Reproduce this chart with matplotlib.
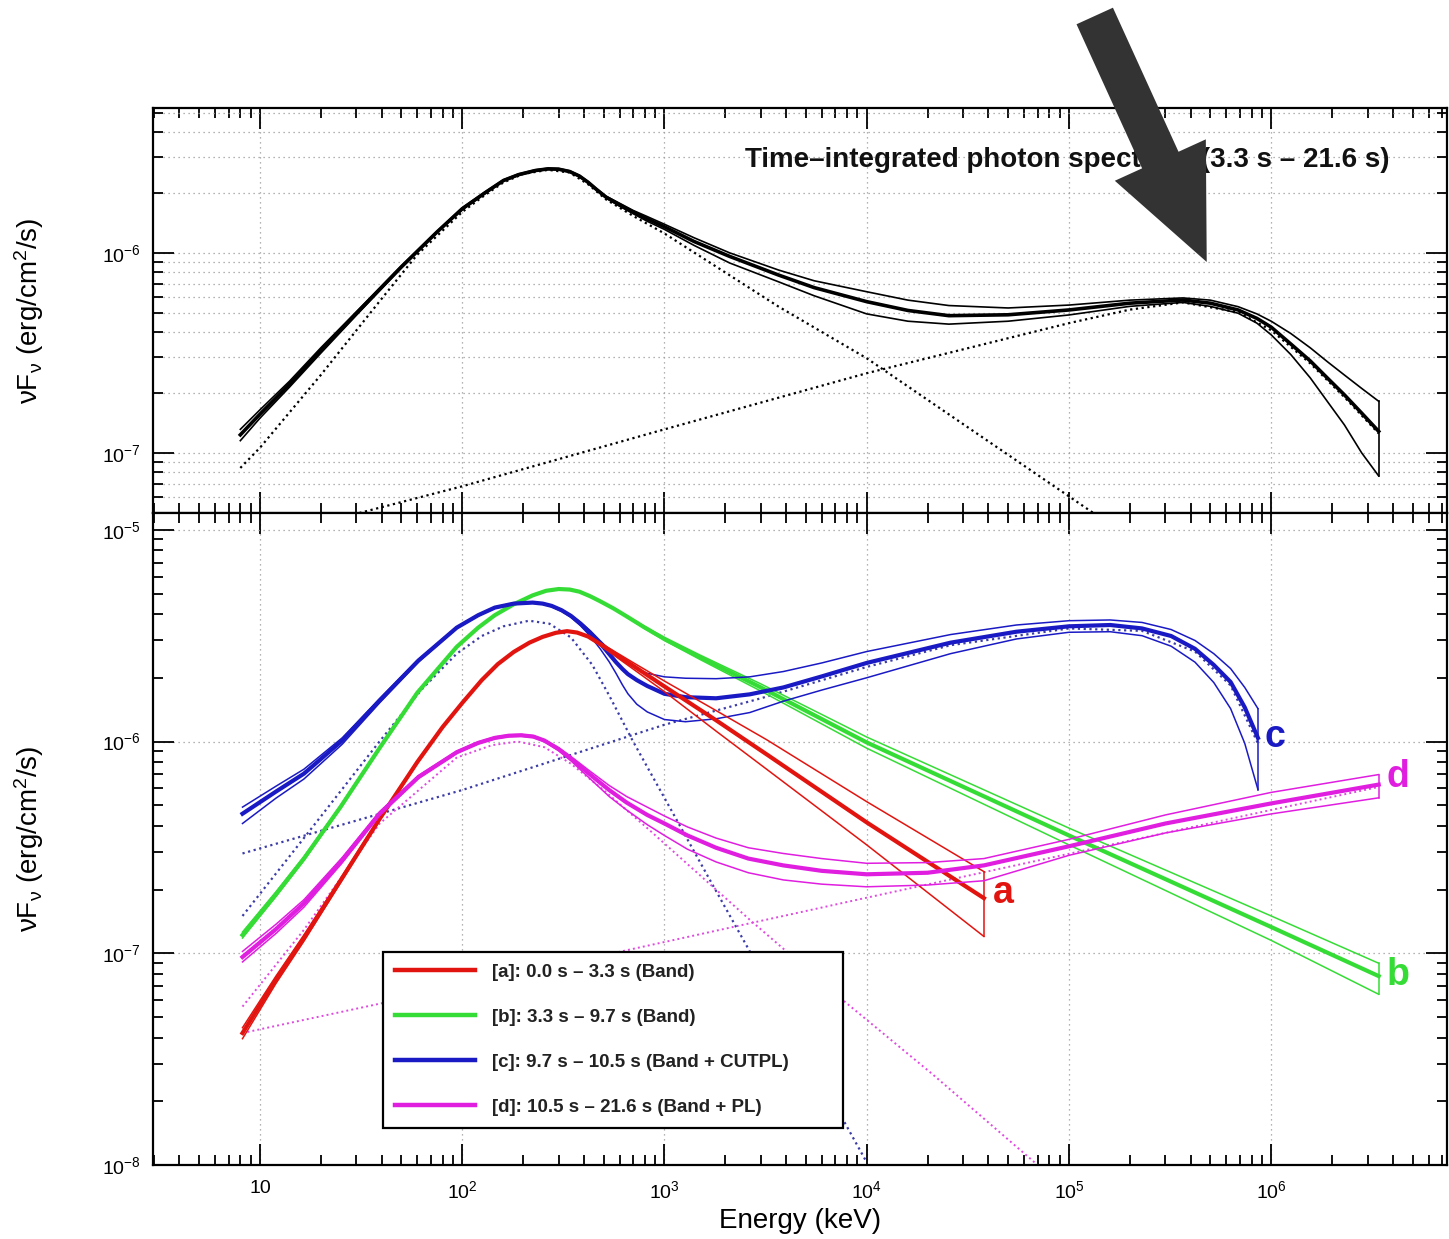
import numpy as np
import matplotlib
matplotlib.use('Agg')
import matplotlib.pyplot as plt
from matplotlib.ticker import LogLocator, FixedLocator, FuncFormatter, NullFormatter
from matplotlib.lines import Line2D
from matplotlib.patches import FancyArrow

plt.rcParams['font.family'] = ['Liberation Sans', 'DejaVu Sans']
plt.rcParams['mathtext.fontset'] = 'custom'
plt.rcParams['mathtext.rm'] = 'Liberation Sans'
plt.rcParams['mathtext.it'] = 'Liberation Sans:italic'
plt.rcParams['mathtext.bf'] = 'Liberation Sans:bold'

# ---------------- data (E in keV, nuFnu in erg/cm2/s) ----------------
# top panel: time-integrated spectrum (butterfly: mid / upper / lower)
E_top = [8.0, 10, 14, 20, 30, 50, 75, 100, 130, 160, 190, 230, 266, 300, 340, 380, 420, 460,
         514, 600, 700, 820, 1000, 1400, 2100, 3670, 5500, 1.0e4, 1.6e4, 2.55e4, 5.0e4,
         1.0e5, 2.0e5, 3.66e5, 5.0e5, 6.86e5, 8.5e5, 1.0e6, 1.25e6, 1.56e6, 1.9e6, 2.3e6,
         2.8e6, 3.4e6]
top_mid = [1.23e-7, 1.56e-7, 2.2e-7, 3.25e-7, 4.98e-7, 8.5e-7, 1.27e-6, 1.66e-6, 2.0e-6,
           2.3e-6, 2.46e-6, 2.58e-6, 2.63e-6, 2.62e-6, 2.55e-6, 2.42e-6, 2.25e-6, 2.08e-6,
           1.90e-6, 1.74e-6, 1.60e-6, 1.48e-6, 1.35e-6, 1.14e-6, 9.6e-7, 7.74e-7, 6.7e-7,
           5.70e-7, 5.15e-7, 4.85e-7, 4.9e-7, 5.18e-7, 5.6e-7, 5.81e-7, 5.6e-7, 5.18e-7,
           4.7e-7, 4.25e-7, 3.5e-7, 2.88e-7, 2.36e-7, 1.95e-7, 1.58e-7, 1.28e-7]
top_hi = [1.31e-7, 1.64e-7, 2.28e-7, 3.35e-7, 5.08e-7, 8.6e-7, 1.28e-6, 1.68e-6, 2.02e-6,
          2.32e-6, 2.48e-6, 2.60e-6, 2.65e-6, 2.64e-6, 2.57e-6, 2.44e-6, 2.27e-6, 2.10e-6,
          1.92e-6, 1.77e-6, 1.63e-6, 1.52e-6, 1.39e-6, 1.19e-6, 1.0e-6, 8.2e-7, 7.25e-7,
          6.39e-7, 5.8e-7, 5.45e-7, 5.3e-7, 5.48e-7, 5.8e-7, 5.95e-7, 5.8e-7, 5.38e-7,
          4.95e-7, 4.55e-7, 3.95e-7, 3.35e-7, 2.85e-7, 2.45e-7, 2.1e-7, 1.81e-7]
top_lo = [1.15e-7, 1.49e-7, 2.13e-7, 3.15e-7, 4.88e-7, 8.4e-7, 1.26e-6, 1.64e-6, 1.98e-6,
          2.28e-6, 2.44e-6, 2.56e-6, 2.61e-6, 2.60e-6, 2.53e-6, 2.40e-6, 2.23e-6, 2.06e-6,
          1.88e-6, 1.71e-6, 1.57e-6, 1.44e-6, 1.31e-6, 1.09e-6, 8.9e-7, 7.16e-7, 6.1e-7,
          4.95e-7, 4.55e-7, 4.40e-7, 4.55e-7, 4.89e-7, 5.4e-7, 5.65e-7, 5.4e-7, 4.99e-7,
          4.45e-7, 3.89e-7, 3.1e-7, 2.37e-7, 1.8e-7, 1.38e-7, 1.0e-7, 7.66e-8]
# top panel components (dotted)
E_top_band = [8.0, 10, 20, 40, 60, 100, 130, 160, 200, 266, 340, 420, 514, 700, 1000, 3670,
              1.0e4, 1.32e5]
top_band = [8.4e-8, 1.06e-7, 2.45e-7, 5.9e-7, 9.8e-7, 1.6e-6, 1.95e-6, 2.25e-6, 2.48e-6,
            2.60e-6, 2.52e-6, 2.2e-6, 1.85e-6, 1.53e-6, 1.25e-6, 5.38e-7, 2.97e-7, 5.0e-8]
E_top_cpl = [31, 100, 1000, 1.0e4, 1.0e5, 2.0e5, 3.66e5, 6.86e5, 1.0e6, 1.56e6, 2.3e6, 3.4e6]
top_cpl = [5.0e-8, 6.8e-8, 1.31e-7, 2.5e-7, 4.45e-7, 5.2e-7, 5.65e-7, 5.05e-7, 4.1e-7,
           2.8e-7, 1.9e-7, 1.25e-7]

# bottom panel: [a] Band
E_a = [8.2, 12, 16.5, 25, 39, 60, 80, 100, 125, 150, 180, 215, 250, 290, 330, 370, 420, 500,
       700, 1000, 1800, 3200, 1.0e4, 3.8e4]
a_mid = [4.2e-8, 7.5e-8, 1.18e-7, 2.2e-7, 4.3e-7, 8.0e-7, 1.17e-6, 1.52e-6, 1.95e-6, 2.32e-6,
         2.65e-6, 2.93e-6, 3.12e-6, 3.26e-6, 3.32e-6, 3.27e-6, 3.13e-6, 2.82e-6, 2.28e-6,
         1.82e-6, 1.26e-6, 8.7e-7, 4.15e-7, 1.82e-7]
a_hi = [4.45e-8, 7.8e-8, 1.22e-7, 2.25e-7, 4.37e-7, 8.1e-7, 1.18e-6, 1.53e-6, 1.96e-6, 2.33e-6,
        2.66e-6, 2.94e-6, 3.13e-6, 3.27e-6, 3.33e-6, 3.28e-6, 3.15e-6, 2.86e-6, 2.36e-6,
        1.93e-6, 1.40e-6, 1.02e-6, 5.2e-7, 2.43e-7]
a_lo = [3.95e-8, 7.2e-8, 1.14e-7, 2.15e-7, 4.23e-7, 7.9e-7, 1.16e-6, 1.51e-6, 1.94e-6, 2.31e-6,
        2.64e-6, 2.92e-6, 3.11e-6, 3.25e-6, 3.31e-6, 3.26e-6, 3.11e-6, 2.77e-6, 2.2e-6,
        1.72e-6, 1.12e-6, 7.4e-7, 3.25e-7, 1.2e-7]

# [b] Band
E_b = [8.2, 12, 16.5, 25, 39, 60, 94, 120, 145, 180, 223, 260, 300, 340, 380, 430, 480, 560,
       650, 800, 1000, 1500, 3000, 1.0e4, 1.0e5, 1.0e6, 3.4e6]
b_mid = [1.22e-7, 1.9e-7, 2.8e-7, 4.9e-7, 9.3e-7, 1.7e-6, 2.8e-6, 3.45e-6, 3.95e-6, 4.45e-6,
         4.9e-6, 5.15e-6, 5.25e-6, 5.22e-6, 5.1e-6, 4.85e-6, 4.6e-6, 4.25e-6, 3.9e-6,
         3.45e-6, 3.05e-6, 2.5e-6, 1.8e-6, 9.9e-7, 3.6e-7, 1.33e-7, 7.8e-8]
b_hi = [1.26e-7, 1.95e-7, 2.86e-7, 4.98e-7, 9.42e-7, 1.72e-6, 2.82e-6, 3.47e-6, 3.97e-6,
        4.47e-6, 4.92e-6, 5.17e-6, 5.27e-6, 5.24e-6, 5.12e-6, 4.87e-6, 4.62e-6, 4.27e-6,
        3.93e-6, 3.49e-6, 3.1e-6, 2.56e-6, 1.87e-6, 1.05e-6, 3.9e-7, 1.5e-7, 8.97e-8]
b_lo = [1.18e-7, 1.85e-7, 2.74e-7, 4.82e-7, 9.18e-7, 1.68e-6, 2.78e-6, 3.43e-6, 3.93e-6,
        4.43e-6, 4.88e-6, 5.13e-6, 5.23e-6, 5.2e-6, 5.08e-6, 4.83e-6, 4.58e-6, 4.23e-6,
        3.87e-6, 3.41e-6, 3.0e-6, 2.44e-6, 1.73e-6, 9.3e-7, 3.25e-7, 1.15e-7, 6.4e-8]

# [c] Band + CUTPL
E_c = [8.2, 12, 16.5, 25.5, 39, 60.7, 94, 120, 145, 180, 223, 250, 277, 310, 345, 385, 429,
       480, 533, 576, 620, 660, 730, 822, 1000, 1270, 1800, 2640, 3870, 6000, 1.0e4, 2.6e4,
       5.5e4, 1.0e5, 1.6e5, 2.3e5, 3.2e5, 4.2e5, 5.2e5, 6.3e5, 7.4e5, 8.6e5]
c_mid = [4.56e-7, 5.8e-7, 7.05e-7, 1.01e-6, 1.56e-6, 2.41e-6, 3.45e-6, 3.95e-6, 4.29e-6,
         4.48e-6, 4.53e-6, 4.48e-6, 4.37e-6, 4.17e-6, 3.92e-6, 3.6e-6, 3.27e-6, 2.92e-6,
         2.59e-6, 2.37e-6, 2.2e-6, 2.08e-6, 1.95e-6, 1.83e-6, 1.68e-6, 1.62e-6, 1.60e-6,
         1.67e-6, 1.80e-6, 2.03e-6, 2.35e-6, 2.93e-6, 3.3e-6, 3.5e-6, 3.55e-6, 3.42e-6,
         3.15e-6, 2.74e-6, 2.3e-6, 1.91e-6, 1.45e-6, 1.04e-6]
c_hi = [4.9e-7, 6.15e-7, 7.4e-7, 1.04e-6, 1.59e-6, 2.44e-6, 3.48e-6, 3.98e-6, 4.32e-6,
        4.51e-6, 4.56e-6, 4.51e-6, 4.40e-6, 4.2e-6, 3.96e-6, 3.66e-6, 3.34e-6, 3.0e-6,
        2.72e-6, 2.55e-6, 2.42e-6, 2.33e-6, 2.2e-6, 2.1e-6, 2.02e-6, 1.99e-6, 1.98e-6,
        2.02e-6, 2.14e-6, 2.35e-6, 2.66e-6, 3.2e-6, 3.55e-6, 3.72e-6, 3.75e-6, 3.65e-6,
        3.38e-6, 3.0e-6, 2.6e-6, 2.21e-6, 1.8e-6, 1.43e-6]
c_lo = [4.1e-7, 5.4e-7, 6.65e-7, 9.7e-7, 1.52e-6, 2.37e-6, 3.42e-6, 3.92e-6, 4.26e-6,
        4.45e-6, 4.50e-6, 4.45e-6, 4.33e-6, 4.12e-6, 3.86e-6, 3.52e-6, 3.15e-6, 2.75e-6,
        2.38e-6, 2.1e-6, 1.85e-6, 1.68e-6, 1.5e-6, 1.38e-6, 1.27e-6, 1.24e-6, 1.28e-6,
        1.37e-6, 1.55e-6, 1.75e-6, 2.0e-6, 2.6e-6, 3.05e-6, 3.28e-6, 3.3e-6, 3.16e-6,
        2.82e-6, 2.37e-6, 1.9e-6, 1.43e-6, 9.8e-7, 5.93e-7]
E_c_band = [8.2, 16.5, 39, 63, 94, 125, 160, 214, 270, 345, 440, 533, 700, 1100, 1660, 2570,
            1.0e4]
c_band = [1.5e-7, 3.5e-7, 1.0e-6, 1.76e-6, 2.6e-6, 3.15e-6, 3.5e-6, 3.72e-6, 3.6e-6, 3.1e-6,
          2.3e-6, 1.65e-6, 1.0e-6, 4.6e-7, 2.26e-7, 1.07e-7, 1.03e-8]
E_c_cpl = [8.2, 100, 1000, 3000, 1.0e4, 2.6e4, 1.0e5, 2.3e5, 4.2e5, 6.3e5, 8.6e5]
c_cpl = [2.96e-7, 5.9e-7, 1.2e-6, 1.6e-6, 2.25e-6, 2.85e-6, 3.42e-6, 3.33e-6, 2.66e-6,
         1.84e-6, 9.8e-7]

# [d] Band + PL
E_d = [8.2, 12, 16.5, 25.5, 39, 60.7, 94, 120, 145, 170, 196, 225, 255, 300, 345, 420, 533,
       650, 822, 1000, 1300, 1800, 2600, 3870, 6000, 1.0e4, 2.0e4, 3.8e4, 1.0e5, 3.0e5,
       1.0e6, 3.4e6]
d_mid = [9.6e-8, 1.3e-7, 1.72e-7, 2.75e-7, 4.56e-7, 6.79e-7, 8.9e-7, 9.85e-7, 1.04e-6,
         1.065e-6, 1.07e-6, 1.055e-6, 1.01e-6, 9.2e-7, 8.3e-7, 7.1e-7, 5.9e-7, 5.15e-7,
         4.5e-7, 4.1e-7, 3.6e-7, 3.15e-7, 2.8e-7, 2.6e-7, 2.45e-7, 2.36e-7, 2.4e-7, 2.6e-7,
         3.2e-7, 4.1e-7, 5.1e-7, 6.26e-7]
d_hi = [1.02e-7, 1.37e-7, 1.79e-7, 2.83e-7, 4.65e-7, 6.9e-7, 9.0e-7, 9.95e-7, 1.05e-6,
        1.075e-6, 1.08e-6, 1.065e-6, 1.02e-6, 9.35e-7, 8.5e-7, 7.35e-7, 6.2e-7, 5.5e-7,
        4.9e-7, 4.45e-7, 3.95e-7, 3.5e-7, 3.15e-7, 2.96e-7, 2.8e-7, 2.66e-7, 2.68e-7,
        2.8e-7, 3.45e-7, 4.5e-7, 5.75e-7, 6.98e-7]
d_lo = [9.1e-8, 1.24e-7, 1.65e-7, 2.67e-7, 4.47e-7, 6.68e-7, 8.8e-7, 9.75e-7, 1.03e-6,
        1.055e-6, 1.06e-6, 1.045e-6, 1.0e-6, 9.05e-7, 8.1e-7, 6.8e-7, 5.5e-7, 4.75e-7,
        4.05e-7, 3.6e-7, 3.1e-7, 2.7e-7, 2.4e-7, 2.22e-7, 2.12e-7, 2.06e-7, 2.1e-7, 2.2e-7,
        2.9e-7, 3.7e-7, 4.55e-7, 5.42e-7]
E_d_band = [8.2, 16.5, 39, 94, 140, 188, 255, 345, 500, 822, 2640, 7800, 2.1e4, 7.0e4]
d_band = [5.6e-8, 1.29e-7, 4.09e-7, 8.4e-7, 9.6e-7, 1.0e-6, 9.4e-7, 7.85e-7, 5.9e-7, 3.9e-7,
          1.44e-7, 5.9e-8, 2.7e-8, 1.0e-8]
E_d_pl = [8.2, 100, 1000, 1.0e4, 1.0e5, 1.0e6, 3.4e6]
d_pl = [4.2e-8, 7.0e-8, 1.13e-7, 1.83e-7, 2.95e-7, 4.75e-7, 6.1e-7]

series_keys = ['a', 'b', 'c', 'd']
legend_labels = ['[a]: 0.0 s – 3.3 s (Band)',
                 '[b]: 3.3 s – 9.7 s (Band)',
                 '[c]: 9.7 s – 10.5 s (Band + CUTPL)',
                 '[d]: 10.5 s – 21.6 s (Band + PL)']
end_label_pos = {'a': (4.2e4, 1.93e-7), 'b': (3.7e6, 7.9e-8),
                 'c': (9.3e5, 1.05e-6), 'd': (3.7e6, 6.8e-7)}
title_text = 'Time–integrated photon spectrum (3.3 s – 21.6 s)'
x_major = [10, 1e2, 1e3, 1e4, 1e5, 1e6]
y_major_top = [1e-7, 1e-6]
y_major_bot = [1e-8, 1e-7, 1e-6, 1e-5]

# ---------------- style ----------------
RED = '#e2140f'
GREEN = '#36dc36'
BLUE = '#1a1ac4'
MAG = '#e01ee0'
BLUE_DOT = '#3c3ca8'
MAG_DOT = '#e048e0'
DOT = (0, (1, 1.6))
GRID_KW = dict(color='#9a9a9a', linestyle=(0, (1, 3)), linewidth=0.9)

W_PX, H_PX = 1449, 1239
fig = plt.figure(figsize=(W_PX / 100, H_PX / 100), dpi=100)
L = 153 / W_PX
Wd = (1447 - 153) / W_PX
ax1 = fig.add_axes([L, 1 - 513 / H_PX, Wd, (513 - 108) / H_PX])
ax2 = fig.add_axes([L, 1 - 1165 / H_PX, Wd, (1165 - 513) / H_PX], sharex=ax1)

for ax in (ax1, ax2):
    ax.set_xscale('log')
    ax.set_yscale('log')
ax1.set_xlim(2.96, 7.4e6)
ax1.set_ylim(5.0e-8, 5.3e-6)
ax2.set_ylim(1.0e-8, 1.2e-5)


def butterfly(ax, E, mid, hi, lo, color, lw_mid=3.0, lw_edge=1.1, z=3):
    ax.plot(E, hi, color=color, lw=lw_edge, zorder=z)
    ax.plot(E, lo, color=color, lw=lw_edge, zorder=z)
    ax.plot(E, mid, color=color, lw=lw_mid, zorder=z + 0.1, solid_joinstyle='round')
    ax.plot([E[-1], E[-1]], [lo[-1], hi[-1]], color=color, lw=lw_edge, zorder=z)


# top panel
ax1.plot(E_top_band, top_band, color='black', lw=1.6, linestyle=DOT, zorder=2)
ax1.plot(E_top_cpl, top_cpl, color='black', lw=1.6, linestyle=DOT, zorder=2)
butterfly(ax1, E_top, top_mid, top_hi, top_lo, 'black', lw_mid=2.6, lw_edge=1.2)

# bottom panel dotted components
ax2.plot(E_c_band, c_band, color=BLUE_DOT, lw=1.6, linestyle=DOT, zorder=2)
ax2.plot(E_c_cpl, c_cpl, color=BLUE_DOT, lw=1.6, linestyle=DOT, zorder=2)
ax2.plot(E_d_band, d_band, color=MAG_DOT, lw=1.4, linestyle=DOT, zorder=2)
ax2.plot(E_d_pl, d_pl, color=MAG_DOT, lw=1.4, linestyle=DOT, zorder=2)

series = {'a': (E_a, a_mid, a_hi, a_lo, RED),
          'b': (E_b, b_mid, b_hi, b_lo, GREEN),
          'c': (E_c, c_mid, c_hi, c_lo, BLUE),
          'd': (E_d, d_mid, d_hi, d_lo, MAG)}
zord = {'a': 3.4, 'b': 3.0, 'c': 3.2, 'd': 3.6}
for k in series_keys:
    E, m, h, l, col = series[k]
    butterfly(ax2, E, m, h, l, col, z=zord[k])
    x, y = end_label_pos[k]
    ax2.text(x, y, k, color=col, fontsize=27, fontweight='bold', ha='left', va='center')

# ticks / grid
ax1.xaxis.set_major_locator(FixedLocator(x_major))
ax1.xaxis.set_minor_locator(LogLocator(base=10, subs=np.arange(2, 10), numticks=100))
ax1.yaxis.set_major_locator(FixedLocator(y_major_top))
ax2.yaxis.set_major_locator(FixedLocator(y_major_bot))
for ax in (ax1, ax2):
    ax.yaxis.set_minor_locator(LogLocator(base=10, subs=np.arange(2, 10), numticks=100))
    ax.yaxis.set_minor_formatter(NullFormatter())
    ax.xaxis.set_minor_formatter(NullFormatter())
    ax.tick_params(which='both', direction='in', top=True, right=True, width=1.3)
    ax.tick_params(which='major', length=15, labelsize=14, pad=9)
    ax.tick_params(which='minor', length=7)
    for s in ax.spines.values():
        s.set_linewidth(1.6)
    ax.set_axisbelow(True)
ax2.tick_params(axis='x', which='major', pad=11)

ax1.yaxis.grid(True, which='both', **GRID_KW)
ax1.xaxis.grid(True, which='major', **GRID_KW)
ax2.grid(True, which='major', **GRID_KW)
ax1.tick_params(labelbottom=False)


def xfmt(v, pos):
    e = int(round(np.log10(v)))
    return '10' if e == 1 else r'$10^{%d}$' % e


ax2.xaxis.set_major_formatter(FuncFormatter(xfmt))

ylab = r'νF$_\mathrm{ν}$ (erg/cm$^2$/s)'
ax1.set_ylabel(ylab, fontsize=20)
ax2.set_ylabel(ylab, fontsize=20)
ax1.yaxis.set_label_coords(-0.083, 0.5)
ax2.yaxis.set_label_coords(-0.083, 0.5)
ax2.set_xlabel('Energy (keV)', fontsize=20)
ax2.xaxis.set_label_coords(0.5, -0.066)

ax1.text(0.4575, 0.8716, title_text, transform=ax1.transAxes, fontsize=20,
         fontweight='bold', ha='left', va='center', color='#111111', zorder=5)

handles = [Line2D([], [], color=series[k][4], lw=3.2) for k in series_keys]
leg = ax2.legend(handles, legend_labels, loc='lower left',
                 bbox_to_anchor=(0.1777, 0.0567, 0.3555, 0.276), mode='expand',
                 borderaxespad=0, fancybox=False, edgecolor='black', framealpha=1,
                 prop={'weight': 'bold', 'size': 13.5}, handlelength=4.27,
                 handletextpad=0.9, labelspacing=1.48, borderpad=0.66)
leg.get_frame().set_linewidth(1.6)
for t in leg.get_texts():
    t.set_color('#222222')
leg.set_zorder(10)

# big arrow annotation pointing at the high-energy component of the top panel
ov = fig.add_axes([0, 0, 1, 1], zorder=20)
ov.set_xlim(0, W_PX)
ov.set_ylim(0, H_PX)
ov.axis('off')
fig.canvas.draw()
tip = ax1.transData.transform((4.8e5, 9.0e-7))
tail = (tip[0] - 112, tip[1] + 246)
ov.add_patch(FancyArrow(tail[0], tail[1], tip[0] - tail[0], tip[1] - tail[1], width=40,
                        head_width=100, head_length=112, length_includes_head=True,
                        color='#333333', lw=0))

fig.savefig('out.png', dpi=100)
